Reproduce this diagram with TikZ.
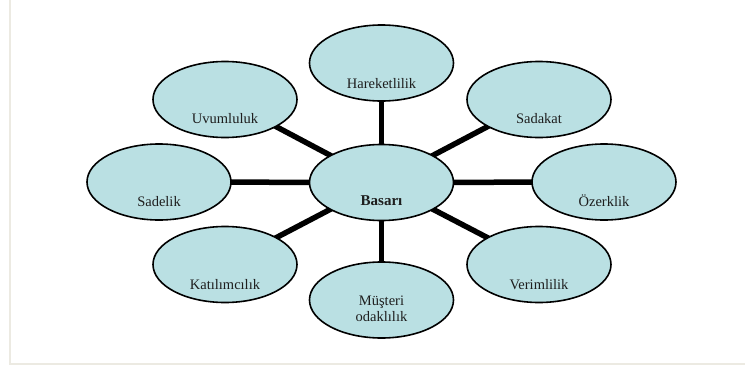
\documentclass[tikz,border=0pt]{standalone}
\usepackage{fontspec}
\setmainfont{Liberation Serif}
\usetikzlibrary{shapes.geometric,backgrounds}
\definecolor{bubblefill}{RGB}{186,224,227}
\definecolor{framegray}{RGB}{236,234,226}
\definecolor{inktext}{RGB}{30,30,30}
\tikzset{
  bubble/.style={ellipse, draw=black, line width=1.6pt, fill=bubblefill,
    minimum width=144pt, minimum height=76pt, inner sep=0pt},
  word/.style={anchor=base, inner sep=0pt, text=inktext,
    font=\fontsize{14.5}{16.5}\selectfont},
  hubword/.style={word, font=\fontsize{15}{17}\selectfont\bfseries},
  spoke/.style={line width=5.5pt, black},
  frameline/.style={line width=2pt, framegray}
}
\begin{document}
\begin{tikzpicture}[x=1pt, y=-1pt]
  \useasboundingbox (0,0) rectangle (745,367);

  % bubbles
  \node[bubble] (hub) at (381.5,182.5) {};
  \node[bubble] (hare) at (381.5,63) {};
  \node[bubble] (uvum) at (225,99.5) {};
  \node[bubble] (sada) at (539,99.5) {};
  \node[bubble] (sadl) at (159,182) {};
  \node[bubble] (ozer) at (604,182) {};
  \node[bubble] (kati) at (225,264.5) {};
  \node[bubble] (veri) at (539,264.5) {};
  \node[bubble] (mus) at (381.5,300) {};

  % white page, frame and spokes, all kept behind the bubbles
  \begin{pgfonlayer}{background}
    \fill[white] (0,0) rectangle (745,367);
    \coordinate (ftop) at (9.5,0);
    \coordinate (fcorner) at (9.5,363.5);
    \coordinate (fright) at (745,363.5);
    \draw[frameline] (ftop) -- (fcorner) -- (fright);
    \foreach \n in {hare,uvum,sada,sadl,ozer,kati,veri,mus}
      \draw[spoke] (hub.center) -- (\n.center);
  \end{pgfonlayer}

  % labels
  \node[hubword] (thub) at ([yshift=-23pt]hub.center) {Basarı};
  \node[word] (thare) at ([yshift=-25pt]hare.center) {Hareketlilik};
  \node[word] (tuvum) at ([yshift=-24pt]uvum.center) {Uvumluluk};
  \node[word] (tsada) at ([yshift=-24pt]sada.center) {Sadakat};
  \node[word] (tsadl) at ([yshift=-24pt]sadl.center) {Sadelik};
  \node[word] (tozer) at ([yshift=-24pt]ozer.center) {Özerklik};
  \node[word] (tkati) at ([yshift=-24.5pt]kati.center) {Katılımcılık};
  \node[word] (tveri) at ([yshift=-24.5pt]veri.center) {Verimlilik};
  \node[word] (tmus1) at ([yshift=-5pt]mus.center) {Müşteri};
  \node[word] (tmus2) at ([yshift=-21.5pt]mus.center) {odaklılık};
\end{tikzpicture}
\end{document}
